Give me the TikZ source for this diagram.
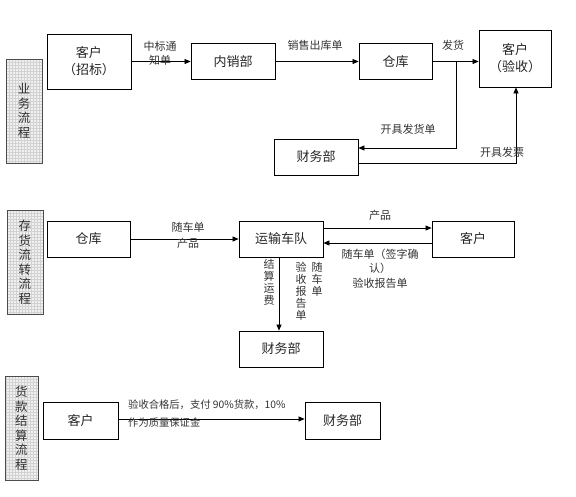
\documentclass[tikz,border=0pt]{standalone}
\usepackage{fontspec}
\setmainfont{Noto Sans CJK SC}
\usetikzlibrary{arrows.meta}
\begin{document}
\begin{tikzpicture}[x=1pt,y=-1pt,
  box/.style={draw,line width=0.8pt,font=\fontsize{13}{17}\selectfont,align=center,inner sep=0pt,text=black!85},
  stage/.style={draw=black!70,line width=1pt,fill=gray!12,inner sep=0pt,minimum width=36pt,minimum height=104pt,
    font=\fontsize{12.5}{14.5}\selectfont,align=center,text=black!80,
    path picture={\draw[gray!35,line width=0.2pt,step=3pt] (path picture bounding box.south west) grid (path picture bounding box.north east);}},
  lbl/.style={font=\fontsize{11}{14.5}\selectfont,align=center,text=black!80,inner sep=1pt},
  flow/.style={line width=0.7pt,-{Triangle[length=6pt,width=5pt]}}]

\useasboundingbox (0,0) rectangle (576,496);

% business flow
\node[stage] (lab1) at (24,111) {业\\务\\流\\程};
\node[box,minimum width=84pt,minimum height=55pt] (kh1) at (89,61.5) {客户\\（招标）};
\node[box,minimum width=84pt,minimum height=36pt] (nxb) at (233,61.5) {内销部};
\node[box,minimum width=73pt,minimum height=36pt] (ck1) at (395.5,61.5) {仓库};
\node[box,minimum width=72pt,minimum height=57pt] (kh2) at (515,58.5) {客户\\（验收）};
\node[box,minimum width=84pt,minimum height=36pt] (cwb1) at (316,157) {财务部};

\draw[flow] (kh1.east|-nxb.west) -- (nxb.west);
\draw[flow] (nxb.east) -- (ck1.west);
\draw[flow] (ck1.east) -- (ck1.east-|kh2.west);
\coordinate (fk) at (456,61.5);
\draw[flow] (fk) |- ([yshift=9pt]cwb1.east);
\draw[flow] ([yshift=-6pt]cwb1.east) -| ([xshift=1pt]kh2.south);

\node[lbl] at (160,53.5) {中标通\\知单};
\node[lbl] at (315,45) {销售出库单};
\node[lbl] at (453,45) {发货};
\node[lbl] at (408,129) {开具发货单};
\node[lbl] at (502,152) {开具发票};

% stock flow
\node[stage] (lab2) at (25,262) {存\\货\\流\\转\\流\\程};
\node[box,minimum width=83pt,minimum height=36pt] (ck2) at (88.5,239) {仓库};
\node[box,minimum width=84pt,minimum height=36pt] (ysd) at (281,239) {运输车队};
\node[box,minimum width=82pt,minimum height=36pt] (kh3) at (473,239) {客户};
\node[box,minimum width=84pt,minimum height=36pt] (cwb2) at (281,349) {财务部};

\draw[flow] (ck2.east) -- (ysd.west);
\draw[flow] ([yshift=11pt]ysd.east) -- ([yshift=11pt]ysd.east-|kh3.west);
\draw[flow] ([yshift=-4pt]kh3.west) -- ([yshift=-4pt]kh3.west-|ysd.east);
\draw[flow] (ysd.south-|279,0) -- (cwb2.north-|279,0);

\node[lbl,font=\fontsize{11}{16}\selectfont] at (188,235) {随车单\\产品};
\node[lbl] at (380,215) {产品};
\node[lbl] at (380,268.5) {随车单（签字确\\认）\\验收报告单};
\node[lbl,anchor=north,font=\fontsize{11}{12}\selectfont] at (269,258) {结\\算\\运\\费};
\node[lbl,anchor=north,font=\fontsize{11}{12}\selectfont] at (301,261) {验\\收\\报\\告\\单};
\node[lbl,anchor=north,font=\fontsize{11}{12}\selectfont] at (317,261) {随\\车\\单};

% payment flow
\node[stage,minimum width=33pt] (lab3) at (21.5,428) {货\\款\\结\\算\\流\\程};
\node[box,minimum width=75pt,minimum height=37pt] (kh4) at (80.5,420.5) {客户};
\node[box,minimum width=75pt,minimum height=37pt] (cwb3) at (342.5,420.5) {财务部};

\draw[flow] ([yshift=1.5pt]kh4.east) -- ([yshift=1.5pt]cwb3.west);
\node[lbl,align=left,anchor=west,font=\fontsize{10.3}{18}\selectfont] at (127,414) {验收合格后，支付 90\%货款，10\%\\作为质量保证金};

\end{tikzpicture}
\end{document}
